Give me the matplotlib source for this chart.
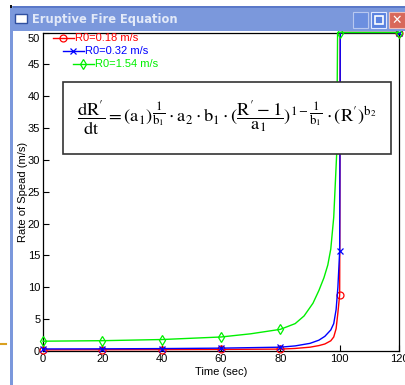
import numpy as np
import matplotlib
matplotlib.use("Agg")
import matplotlib.pyplot as plt
from matplotlib.patches import Rectangle
from matplotlib.lines import Line2D
import matplotlib.transforms as mtransforms

plt.rcParams['font.family'] = ['Liberation Sans', 'DejaVu Sans']
plt.rcParams['mathtext.fontset'] = 'stix'

# ---- data ----
marker_times = [0, 20, 40, 60, 80, 100, 120]

red_t = [0, 20, 40, 60, 80, 85, 90, 93, 95, 97, 98, 98.8, 99.4, 100, 100.2, 120]
red_v = [0.18, 0.2, 0.22, 0.25, 0.3, 0.4, 0.6, 0.85, 1.1, 1.6, 2.2, 3.5, 6.0, 8.8, 50, 50]

blue_t = [0, 20, 40, 60, 80, 85, 90, 93, 95, 97, 98, 98.8, 99.4, 100, 100.2, 120]
blue_v = [0.32, 0.34, 0.38, 0.45, 0.6, 0.8, 1.2, 1.7, 2.3, 3.3, 4.3, 6.5, 10.0, 15.7, 50, 50]

green_t = [0, 20, 40, 60, 70, 80, 85, 88, 91, 93, 94.7, 96, 97, 98, 98.6, 99, 99.3, 100, 120]
green_v = [1.54, 1.62, 1.8, 2.2, 2.7, 3.4, 4.3, 5.5, 7.5, 9.5, 11.5, 13.5, 16, 21, 27, 31, 50, 50, 50]

labels = ['R0=0.18 m/s', 'R0=0.32 m/s', 'R0=1.54 m/s']
colors = ['#ff0000', '#0000ff', '#00f000']
markers = ['o', 'x', 'd']

x_ticks = [0, 20, 40, 60, 80, 100, 120]
y_ticks = [0, 5, 10, 15, 20, 25, 30, 35, 40, 45, 50]

W, H = 406, 385
fig = plt.figure(figsize=(W / 100, H / 100), dpi=100)
fig.patch.set_facecolor('white')


def px(x0, y0, w, h):
    """pixel box (top-left origin) -> figure fraction rect"""
    return (x0 / W, 1 - (y0 + h) / H, w / W, h / H)


def frect(x0, y0, w, h, **kw):
    l, b, ww, hh = px(x0, y0, w, h)
    fig.add_artist(Rectangle((l, b), ww, hh, transform=fig.transFigure, **kw))


# ---- window chrome ----
frect(10, 6, 400, 25, facecolor='#7b98dc', edgecolor='none')
frect(10, 6, 400, 1.5, facecolor='#5a78c8', edgecolor='none')
frect(10, 6, 3, 380, facecolor='#7b98dc', edgecolor='none')
frect(10, 5, 2, 3, facecolor='#111111', edgecolor='none')
frect(15, 14, 12, 9, facecolor='white', edgecolor='#3050a0', linewidth=1)
frect(353, 12, 15, 16, facecolor='#6c8fe0', edgecolor='#b8c8f0', linewidth=0.8)
frect(371, 12, 15, 16, facecolor='#5a82e0', edgecolor='#e0e8ff', linewidth=0.8)
frect(375, 16, 8, 8, facecolor='none', edgecolor='white', linewidth=1.2)
frect(389, 12, 18, 16, facecolor='#d8685a', edgecolor='#f0c0b8', linewidth=0.8)
fig.text(397 / W, 1 - 20 / H, '\u2715', color='white', fontsize=9, fontweight='bold',
         ha='center', va='center', family=['DejaVu Sans'])
fig.text(32 / W, 1 - 19 / H, 'Eruptive Fire Equation', color='#e2e9f8', fontsize=8.3,
         fontweight='bold', ha='left', va='center', family=['DejaVu Sans'])
fig.add_artist(Line2D([0, 6 / W], [1 - 344 / H] * 2, color='#d9a020', linewidth=1.5,
                      transform=fig.transFigure))

# ---- axes ----
ax = fig.add_axes(px(43, 32.5, 356, 318.5))
series = [(red_t, red_v), (blue_t, blue_v), (green_t, green_v)]
for (t, v), c, m in zip(series, colors, markers):
    t = np.asarray(t, float)
    v = np.asarray(v, float)
    idx = list(np.where(np.isin(t, marker_times))[0])
    ax.plot(t, v, color=c, linewidth=1.0, marker=m, markevery=idx,
            markersize=5, markerfacecolor='none',
            markeredgecolor=c, markeredgewidth=0.9, clip_on=False, zorder=3)

ax.set_xlim(0, 120)
ax.set_ylim(0, 50)
ax.set_xticks(x_ticks)
ax.set_yticks(y_ticks)
ax.tick_params(direction='in', length=4, width=0.8, labelsize=8, pad=2, colors='black')
for s in ax.spines.values():
    s.set_linewidth(0.9)
ax.set_xlabel('Time (sec)', fontsize=8, labelpad=2)
ax.set_ylabel('Rate of Spead (m/s)', fontsize=8, labelpad=0)

fig.canvas.draw()
top_lab = ax.get_yticklabels()[-1]
top_lab.set_transform(top_lab.get_transform() +
                      mtransforms.ScaledTranslation(0, -5 / 100, fig.dpi_scale_trans))

# ---- legend (staggered as in the picture) ----
leg_pos = [(53, 38), (63, 51), (73, 64)]
for (x0, y0), lab, c, m in zip(leg_pos, labels, colors, markers):
    fy = 1 - y0 / H
    fig.add_artist(Line2D([x0 / W, (x0 + 21) / W], [fy, fy], color=c, linewidth=1.0,
                          transform=fig.transFigure))
    fig.add_artist(Line2D([(x0 + 10.5) / W], [fy], color=c, marker=m, markersize=5,
                          markerfacecolor='none', markeredgewidth=0.9, linestyle='none',
                          transform=fig.transFigure))
    fig.text((x0 + 22) / W, fy, lab, color=c, fontsize=8, ha='left', va='center')

# ---- equation box ----
frect(63, 82, 328, 72, facecolor='white', edgecolor='#333333', linewidth=1.2, zorder=5)
eq = (r'$\dfrac{\mathrm{dR}^{\prime}}{\mathrm{dt}} = (\mathrm{a}_1)^{\dfrac{1}{\mathrm{b}_1}}'
      r'\cdot \mathrm{a}_2 \cdot \mathrm{b}_1 \cdot (\dfrac{\mathrm{R}^{\prime} - 1}{\mathrm{a}_1})'
      r'^{1-\dfrac{1}{\mathrm{b}_1}} \cdot (\mathrm{R}^{\prime})^{\mathrm{b}_2}$')
fig.text(227 / W, 1 - 118 / H, eq, fontsize=13.3, ha='center', va='center', zorder=6)

fig.savefig('out.png', dpi=100)
